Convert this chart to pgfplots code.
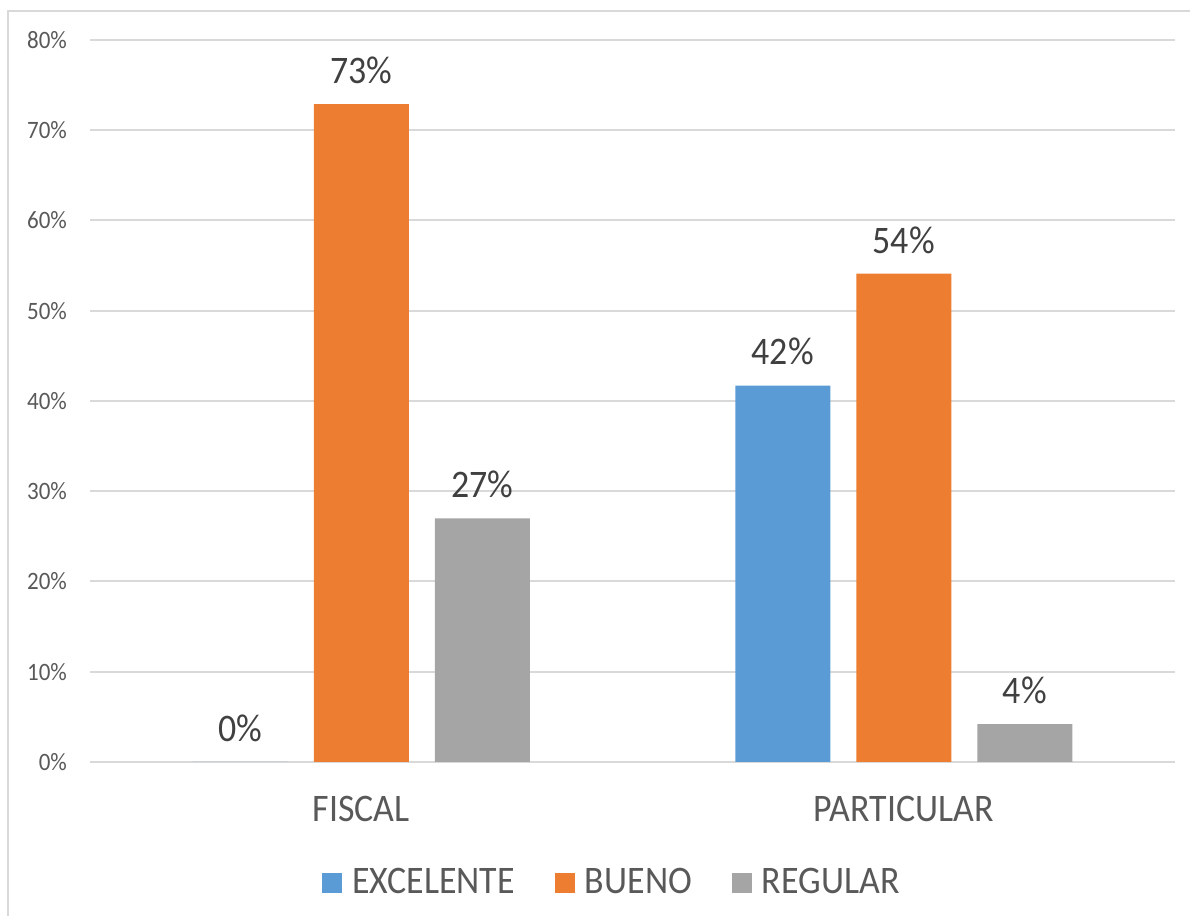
\documentclass[border=0pt]{standalone}
\usepackage{fontspec}
\setmainfont{Carlito}[FakeStretch=0.92]
\usepackage{pgfplots}
\pgfplotsset{compat=1.18}
\definecolor{cexc}{HTML}{5B9BD5}
\definecolor{cbue}{HTML}{ED7D31}
\definecolor{creg}{HTML}{A5A5A5}
\definecolor{cgrid}{HTML}{D9D9D9}
\definecolor{ctxt}{HTML}{595959}
\definecolor{clab}{HTML}{404040}
\pgfplotsset{sqlegend/.style={legend image code/.code={\fill[##1] (0pt,-5pt) rectangle (10pt,5pt);}}}
\begin{document}
\begin{tikzpicture}[x=1pt,y=1pt]
\useasboundingbox (0,0) rectangle (595,458);
\draw[color=cgrid, line width=1pt] (4,0) -- (4,452.5) -- (595,452.5);
\begin{axis}[
  at={(45pt,77pt)}, anchor=south west,
  scale only axis, width=542.5pt, height=361pt,
  ybar=13pt, bar width=47.5pt,
  xmin=-0.5, xmax=1.5, ymin=0, ymax=80,
  xtick={0,1}, xticklabels={FISCAL,PARTICULAR},
  ytick={0,10,...,80},
  yticklabel={\pgfmathprintnumber{\tick}\%},
  /pgf/number format/assume math mode=true,
  axis line style={draw=none},
  major tick length=0pt,
  ymajorgrids,
  major grid style={color=cgrid, line width=1pt},
  yticklabel style={font=\fontsize{12.5}{15}\selectfont, text=ctxt, anchor=east, xshift=-8pt},
  xticklabel style={font=\fontsize{19.5}{23}\selectfont, text=ctxt, anchor=base, yshift=-30pt},
  nodes near coords={\pgfmathprintnumber[fixed,precision=0]{\pgfplotspointmeta}\%},
  nodes near coords style={font=\fontsize{19.5}{23}\selectfont, text=clab, anchor=south, inner sep=0pt, yshift=10pt},
  legend columns=-1,
  legend style={at={(0.482,-0.167)}, anchor=center, draw=none,
    font=\fontsize{19.5}{23}\selectfont, text=ctxt,
    /tikz/every odd column/.append style={column sep=3pt},
    /tikz/every even column/.append style={column sep=18pt}},
]
\addplot[sqlegend, draw=none, fill=cexc] coordinates {(0,0) (1,41.7)};
\addplot[sqlegend, draw=none, fill=cbue] coordinates {(0,72.9) (1,54.1)};
\addplot[sqlegend, draw=none, fill=creg] coordinates {(0,27.0) (1,4.2)};
\legend{EXCELENTE, BUENO, REGULAR}
\end{axis}
\end{tikzpicture}
\end{document}
